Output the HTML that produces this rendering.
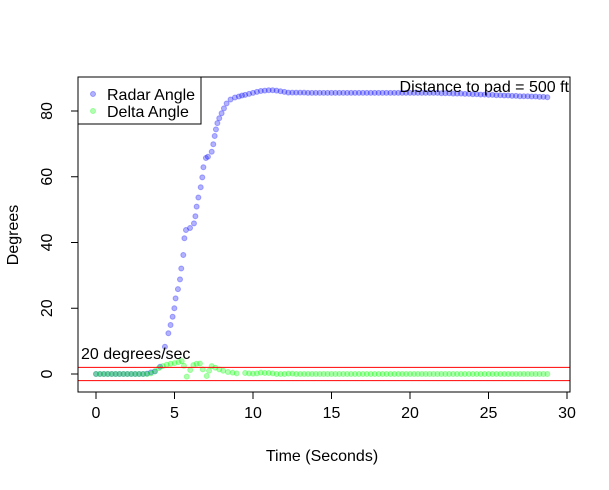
<!DOCTYPE html>
<html><head><meta charset="utf-8"><style>
body{margin:0;background:#fff;}
svg text{font-family:"Liberation Sans",Arial,sans-serif;fill:#000;}
</style></head><body>
<svg id="chart" width="609" height="485" xmlns="http://www.w3.org/2000/svg">
<rect width="609" height="485" fill="#fff"/>
<g id="marks"></g>
<rect x="78" y="77" width="492" height="315" fill="none" stroke="#000" stroke-width="1"/>
<g id="axes"></g>
<text x="322" y="461" font-size="16" text-anchor="middle">Time (Seconds)</text>
<text x="18" y="235" font-size="16" text-anchor="middle" transform="rotate(-90 18 235)">Degrees</text>
<text x="569" y="92" font-size="16" text-anchor="end">Distance to pad =  500 ft</text>
<text x="81" y="359" font-size="16">20 degrees/sec</text>
<g>
<rect x="78" y="77" width="123" height="47" fill="#fff" stroke="#000"/>
<circle cx="93" cy="94" r="2.5" fill="rgba(0,0,255,0.3)" stroke="rgba(0,0,255,0.3)"/>
<text x="107" y="100" font-size="16">Radar Angle</text>
<circle cx="93" cy="111" r="2.5" fill="rgba(0,255,0,0.3)" stroke="rgba(0,255,0,0.3)"/>
<text x="107" y="117" font-size="16">Delta Angle</text>
</g>
</svg>
<script>
const xTicks=[0,5,10,15,20,25,30];
const yTicks=[0,20,40,60,80];
const thresholds=[2,-2];
const headStart=0, headStep=0.25;
const radarHead=[0,0,0,0,0,0,0,0,0,0,0,0,0,0.1,0.5];
const deltaHead=[0,0,0,0,0,0,0,0,0,0,0,0,0,0,0.2];
const radarRiseT=[3.75,4.08,4.39,4.61,4.75,4.88,4.99,5.07,5.22,5.35,5.43,5.56,5.63,5.73,5.99,6.24,6.33,6.41,6.52,6.67,6.77,6.84,7.0,7.13,7.37,7.47,7.56,7.64,7.73,7.85,8.0,8.15,8.32,8.57,8.85,9.1,9.3];
const radarRiseV=[0.8,2.2,8.3,12.4,14.9,17.4,20,23,25.8,28.8,32.1,36.2,41.3,43.8,44.4,45.8,48,50.9,53.7,56.8,59.8,62.9,65.7,66.1,67.6,69.9,72.4,74.4,76.3,77.8,79.3,80.8,82.3,83.5,84.1,84.4,84.7];
const deltaRiseT=[3.75,4.0,4.25,4.5,4.75,5.0,5.25,5.46,5.6,5.78,6.0,6.2,6.4,6.62,6.8,7.05,7.2,7.37,7.6,7.85,8.1,8.4,8.7,8.96];
const deltaRiseV=[0.8,1.8,2.4,2.8,3.1,3.3,3.6,3.9,2.5,-0.8,1.2,2.7,3.1,3.2,1.4,-0.6,1.0,2.4,1.9,1.4,1.0,0.6,0.4,0.2];
const tailStart=9.5, tailStep=0.25;
const radarTail=[84.9,85.2,85.5,85.8,86.1,86.2,86.3,86.3,86.2,86.0,85.8,85.6,85.6,85.6,85.6,85.6,85.5,85.5,85.5,85.5,85.5,85.5,85.5,85.5,85.5,85.5,85.5,85.5,85.5,85.5,85.5,85.5,85.5,85.5,85.5,85.5,85.5,85.5,85.5,85.5,85.5,85.5,85.5,85.5,85.5,85.5,85.5,85.5,85.5,85.5,85.4,85.4,85.4,85.3,85.3,85.3,85.2,85.2,85.1,85.1,85.0,85.0,84.9,84.9,84.8,84.8,84.7,84.7,84.6,84.6,84.5,84.5,84.5,84.4,84.4,84.3,84.3,84.2];
const deltaTail=[0.3,0.2,0.1,0.2,0.4,0.3,0.3,0.2,0.0,0.0,0.0,0.1,0.1,0.0,0.0,0.0,0.0,0.0,0.0,0.0,0.0,0.0,0.0,0.0,0.0,0.0,0.0,0.0,0.0,0.0,0.0,0.0,0.0,0.0,0.0,0.0,0.0,0.0,0.0,0.0,0.0,0.0,0.0,0.0,0.0,0.0,0.0,0.0,0.0,0.0,0.0,0.0,0.0,0.0,0.0,0.0,0.0,0.0,0.0,0.0,0.0,0.0,0.0,0.0,0.0,0.0,0.0,0.0,0.0,0.0,0.0,0.0,0.0,0.0,0.0,0.0,0.0,0.0];

const NS='http://www.w3.org/2000/svg';
const xs=t=>96+t*(567-96)/30;
const ys=v=>374-v*(374-111)/80;
const marks=document.getElementById('marks');
const axes=document.getElementById('axes');
function mk(tag,attrs,parent){const e=document.createElementNS(NS,tag);for(const k in attrs)e.setAttribute(k,attrs[k]);parent.appendChild(e);return e;}
function series(ts,vs,color,name){
  for(let i=0;i<vs.length;i++){
    const c=mk('circle',{cx:xs(ts[i]),cy:ys(vs[i]),r:2.5,fill:color,stroke:color},marks);
    
    
  }
}
const idxT=(s,st,n)=>Array.from({length:n},(_,i)=>s+i*st);
const blue='rgba(0,0,255,0.3)', green='rgba(0,255,0,0.3)';
series(idxT(headStart,headStep,radarHead.length),radarHead,blue,'radar-point');
series(radarRiseT,radarRiseV,blue,'radar-point');
series(idxT(tailStart,tailStep,radarTail.length),radarTail,blue,'radar-point');
series(idxT(headStart,headStep,deltaHead.length),deltaHead,green,'delta-point');
series(deltaRiseT,deltaRiseV,green,'delta-point');
series(idxT(tailStart,tailStep,deltaTail.length),deltaTail,green,'delta-point');
thresholds.forEach(v=>{
  const l=mk('line',{x1:78,x2:570,y1:ys(v),y2:ys(v),stroke:'#f00','stroke-width':1},marks);
  
  
});
mk('line',{x1:xs(xTicks[0]),x2:xs(xTicks[xTicks.length-1]),y1:392,y2:392,stroke:'#000'},axes);
xTicks.forEach(t=>{
  mk('line',{x1:xs(t),x2:xs(t),y1:392,y2:399,stroke:'#000'},axes);
  const tx=mk('text',{x:xs(t),y:418,'font-size':16,'text-anchor':'middle'},axes);
  tx.textContent=t;
  
  
});
mk('line',{x1:78,x2:78,y1:ys(yTicks[0]),y2:ys(yTicks[yTicks.length-1]),stroke:'#000'},axes);
yTicks.forEach(v=>{
  mk('line',{x1:71,x2:78,y1:ys(v),y2:ys(v),stroke:'#000'},axes);
  const tx=mk('text',{x:52,y:ys(v),'font-size':16,'text-anchor':'middle',transform:`rotate(-90 52 ${ys(v)})`},axes);
  tx.textContent=v;
  
  
});
</script>
</body></html>
